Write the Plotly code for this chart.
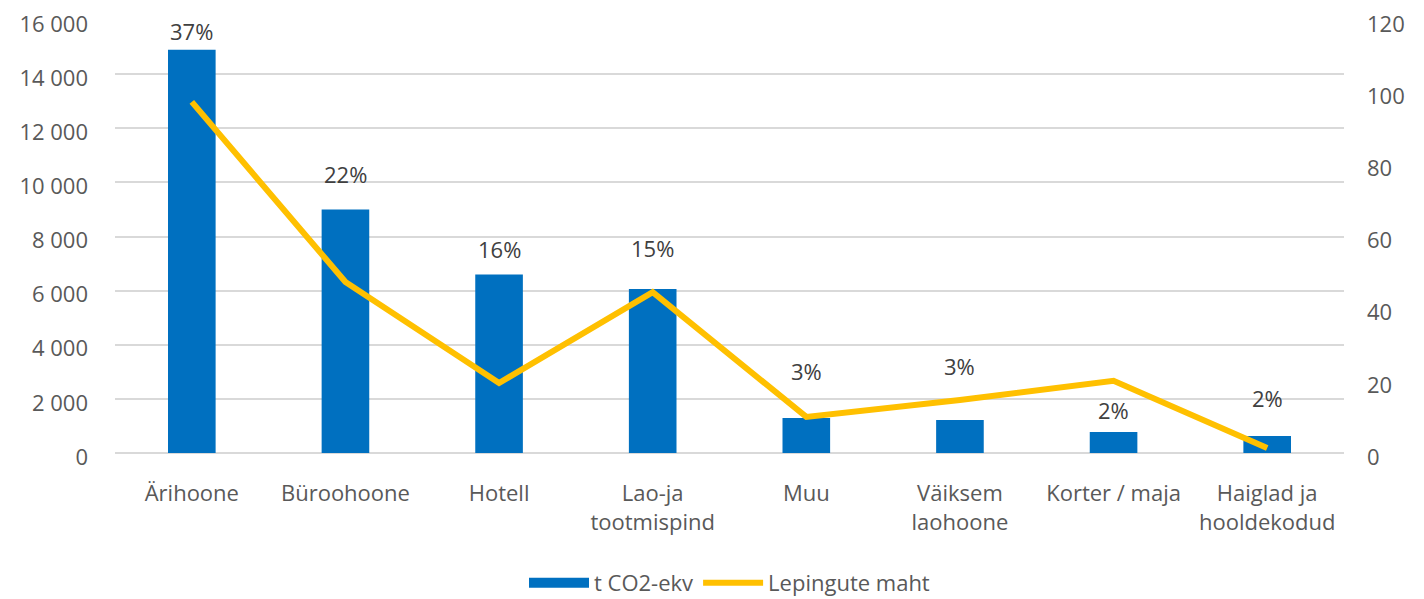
import plotly.graph_objects as go

categories = ["Ärihoone", "Büroohoone", "Hotell", "Lao-ja<br>tootmispind", "Muu",
              "Väiksem<br>laohoone", "Korter / maja", "Haiglad ja<br>hooldekodud"]
co2_values = [14900, 9000, 6600, 6060, 1290, 1220, 780, 630]
share_labels = ["37%", "22%", "16%", "15%", "3%", "3%", "2%", "2%"]
contract_volume = [97.3, 47.4, 19.4, 44.6, 10.0, 14.7, 20.0, 1.4]

# label offsets (pixels above bar top), styling only
label_shift = [2, 18, 8, 24, 30, 37, 5, 21]

FONT = "Open Sans"
GRAY = "#595959"
FS = 22

fig = go.Figure()
fig.add_trace(go.Bar(
    x=categories, y=co2_values, name="t CO2-ekv",
    marker=dict(color="#0070C0", line=dict(width=0)),
    yaxis="y", showlegend=False,
))
# legend entry drawn as a wide block, matching the reference legend swatch
fig.add_trace(go.Scatter(
    x=[None], y=[None], name="t CO2-ekv", mode="lines",
    line=dict(color="#0070C0", width=18), yaxis="y",
))
fig.add_trace(go.Scatter(
    x=categories, y=contract_volume, name="Lepingute maht",
    mode="lines", line=dict(color="#FFC000", width=6),
    yaxis="y2",
))

for cat, val, lab, sh in zip(categories, co2_values, share_labels, label_shift):
    fig.add_annotation(x=cat, y=val, text=lab, showarrow=False, yref="y",
                       yanchor="bottom", yshift=sh,
                       font=dict(family=FONT, size=FS, color="#404040"))

fig.update_layout(
    width=1416, height=591,
    margin=dict(l=107, r=80, t=12, b=146, autoexpand=False),
    paper_bgcolor="white", plot_bgcolor="white",
    separators=", ",
    bargap=0.69,
    font=dict(family=FONT, size=FS, color=GRAY),
    xaxis=dict(showgrid=False, ticks="", tickfont=dict(size=FS, color=GRAY),
               showline=False, automargin=False, ticklabelstandoff=25),
    yaxis=dict(range=[0, 16000], dtick=2000, tickformat=",d",
               gridcolor="#D9D9D9", gridwidth=2, zeroline=True,
               zerolinecolor="#D9D9D9", zerolinewidth=2,
               tickfont=dict(size=FS, color=GRAY), ticks="",
               automargin=False, ticklabelstandoff=26,
               ticklabeloverflow="allow", ticklabelshift=4),
    yaxis2=dict(range=[0, 120], dtick=20, overlaying="y", side="right",
                showgrid=False, zeroline=False, automargin=False,
                tickfont=dict(size=FS, color=GRAY), ticklabelstandoff=22,
                ticklabeloverflow="allow", ticklabelshift=4),
    legend=dict(orientation="h", x=0.5, xanchor="center", y=-0.30,
                yanchor="middle", font=dict(size=FS, color=GRAY),
                itemwidth=60, traceorder="normal"),
    showlegend=True,
)

fig.write_html("out.html")
